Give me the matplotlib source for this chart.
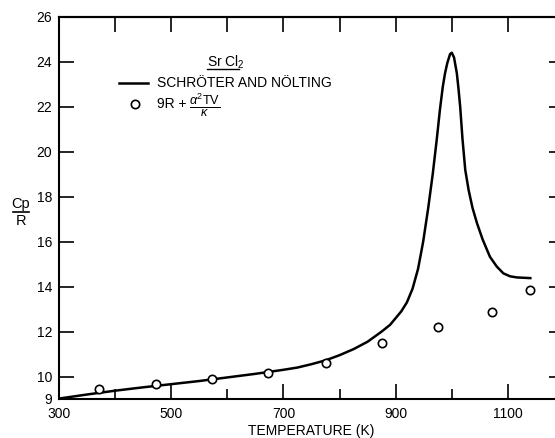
import matplotlib.pyplot as plt
from matplotlib.lines import Line2D

plt.rcParams['font.family'] = ['Liberation Sans', 'DejaVu Sans']
plt.rcParams['mathtext.fontset'] = 'custom'
plt.rcParams['mathtext.rm'] = 'Liberation Sans'
plt.rcParams['mathtext.it'] = 'Liberation Sans:italic'

# Schröter and Nölting curve
curve_t = [300, 350, 400, 450, 500, 550, 600, 650, 700, 725, 750, 775, 800, 825,
           850, 875, 890, 900, 910, 920, 930, 940, 949, 958, 966, 973, 979, 984,
           988, 992, 997, 1000, 1004, 1009, 1012, 1015, 1019, 1024, 1030, 1037,
           1045, 1055, 1068, 1080, 1092, 1104, 1116, 1140]
curve_cp = [9.02, 9.2, 9.37, 9.52, 9.66, 9.8, 9.96, 10.12, 10.3, 10.4, 10.55, 10.72,
            10.95, 11.22, 11.55, 12.0, 12.3, 12.6, 12.9, 13.3, 13.9, 14.8, 16.0,
            17.5, 19.0, 20.5, 21.9, 22.9, 23.5, 23.95, 24.35, 24.41, 24.2, 23.5,
            22.8, 22.0, 20.6, 19.2, 18.3, 17.5, 16.82, 16.1, 15.33, 14.9, 14.59,
            14.46, 14.41, 14.38]

# 9R + a^2 T V / kappa points
pts_t = [371, 473, 572, 672, 775, 875, 975, 1072, 1140]
pts_cp = [9.45, 9.67, 9.90, 10.14, 10.62, 11.51, 12.19, 12.87, 13.84]

x_labels = [300, 500, 700, 900, 1100]
x_minor = [400, 600, 800, 1000]
y_labels = [9, 10, 12, 14, 16, 18, 20, 22, 24, 26]

fig = plt.figure(figsize=(5.55, 4.38), dpi=100)
ax = fig.add_axes([59 / 555, 1 - 399 / 438, (564 - 59) / 555, (399 - 17) / 438])

ax.plot(curve_t, curve_cp, color='black', linewidth=1.8, solid_joinstyle='round')
ax.plot(pts_t, pts_cp, linestyle='none', marker='o', markersize=6,
        markerfacecolor='white', markeredgecolor='black', markeredgewidth=1.2)

ax.set_xlim(300, 1200)
ax.set_ylim(9, 26)
ax.set_xticks(x_labels)
ax.set_xticks(x_minor, minor=True)
ax.set_yticks(y_labels)
ax.tick_params(axis='x', which='major', direction='in', length=11, width=1.2,
               top=False, labelsize=10, pad=6)
ax.tick_params(axis='x', which='minor', direction='in', length=7, width=1.2, top=False)
ax.tick_params(axis='y', direction='in', length=11, width=1.2, right=True,
               labelsize=10, pad=5)
for s in ax.spines.values():
    s.set_linewidth(1.5)

top = ax.secondary_xaxis('top')
top.set_xticks(list(range(400, 1200, 100)))
top.set_xticklabels([])
top.tick_params(direction='in', length=11, width=1.2)
top.spines['top'].set_linewidth(1.5)

ax.set_xlabel('TEMPERATURE (K)', fontsize=10, labelpad=2)

# y label as a fraction Cp / R
fig.text(21 / 555, 1 - 204 / 438, 'Cp', ha='center', va='center', fontsize=10.5)
fig.add_artist(Line2D([13 / 555, 29 / 555], [1 - 212 / 438, 1 - 212 / 438],
                      color='black', linewidth=1.2))
fig.text(21 / 555, 1 - 221 / 438, 'R', ha='center', va='center', fontsize=10.5)

# hand-drawn legend
def px(x, y):
    return 300 + (x - 59) / 0.5611, 26 - (y - 17) / 22.47

tx, ty = px(207, 62)
ax.text(tx, ty, r'Sr Cl$_2$', ha='left', va='center', fontsize=10)
ux0, uy = px(207, 69)
ux1, _ = px(239, 69)
ax.plot([ux0, ux1], [uy, uy], color='black', linewidth=1.0)

lx0, ly = px(119, 83)
lx1, _ = px(148, 83)
ax.plot([lx0, lx1], [ly, ly], color='black', linewidth=1.8)
tx, ty = px(157, 83)
ax.text(tx, ty, 'SCHRÖTER AND NÖLTING', ha='left', va='center', fontsize=10)

cx, cy = px(135, 104)
ax.plot([cx], [cy], linestyle='none', marker='o', markersize=6,
        markerfacecolor='white', markeredgecolor='black', markeredgewidth=1.2)
tx, ty = px(157, 104)
ax.text(tx, ty, '9R +', ha='left', va='center', fontsize=10)
fx, fy = px(189, 105)
ax.text(fx, fy, r'$\frac{\alpha^{2}\mathrm{TV}}{\kappa}$', ha='left', va='center',
        fontsize=13)

fig.savefig('out.png', dpi=100)
